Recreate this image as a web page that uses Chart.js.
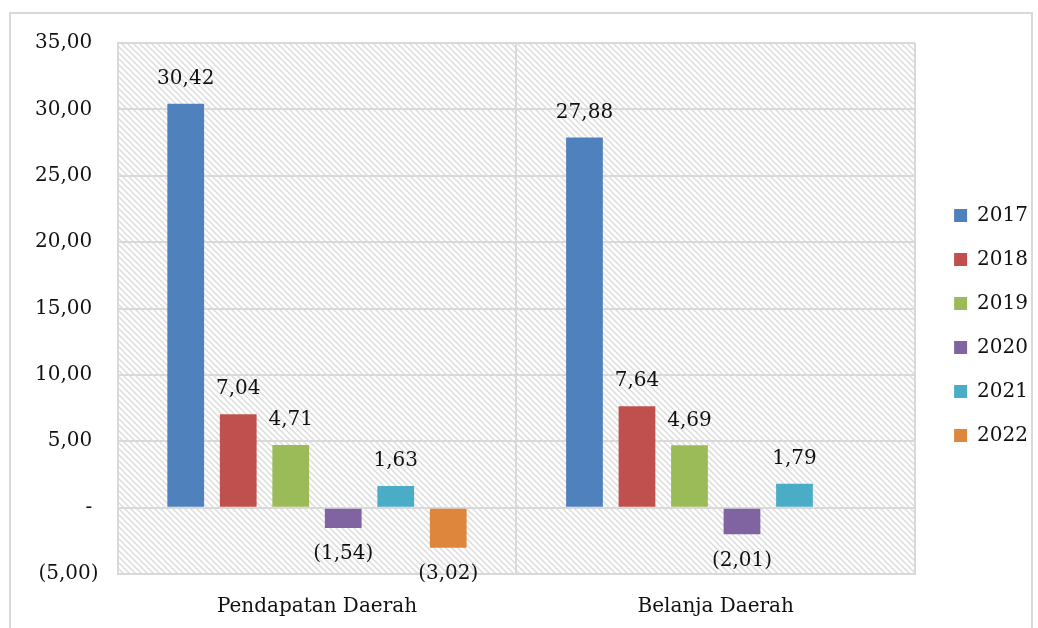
<!DOCTYPE html>
<html>
<head>
<meta charset="utf-8">
<script src="https://cdn.jsdelivr.net/npm/chart.js@4/dist/chart.umd.min.js"></script>
<style>
  html, body { margin: 0; background: #fff; overflow: hidden; }
  #frame { position: absolute; left: 9px; top: 12px; width: 1020px; height: 620px; border: 2px solid #d9d9d9; }
  #wrap { position: absolute; left: 0; top: 0; width: 1038px; height: 628px; overflow: hidden; }
</style>
</head>
<body>
<div id="frame"></div>
<div id="wrap"><canvas id="chart" width="1038" height="636"></canvas></div>
<script>
// categories and series
var categories = ["Pendapatan Daerah", "Belanja Daerah"];
var years = ["2017", "2018", "2019", "2020", "2021", "2022"];
var v2017 = [30.42, 27.88];
var v2018 = [7.04, 7.64];
var v2019 = [4.71, 4.69];
var v2020 = [-1.54, -2.01];
var v2021 = [1.63, 1.79];
var v2022 = [-3.02, null];
var colors = ["#4f81bd", "#c0504d", "#9bbb59", "#8064a2", "#4bacc6", "#de863c"];
var yTicks = [-5, 0, 5, 10, 15, 20, 25, 30, 35];

var FONT = "'DejaVu Serif', serif";

function fmt(v) {
  var s = Math.abs(v).toFixed(2).replace(".", ",");
  return v < 0 ? "(" + s + ")" : s;
}

// hatch pattern for the plot background
function makeHatch() {
  var c = document.createElement("canvas");
  c.width = 6; c.height = 6;
  var g = c.getContext("2d");
  g.fillStyle = "#ffffff";
  g.fillRect(0, 0, 6, 6);
  g.strokeStyle = "#dcdcdc";
  g.lineWidth = 1.5;
  g.beginPath();
  g.moveTo(-1, -1); g.lineTo(7, 7);
  g.moveTo(-1, 5); g.lineTo(1, 7);
  g.moveTo(5, -1); g.lineTo(7, 1);
  g.stroke();
  return c;
}

var hatchBg = {
  id: "hatchBg",
  beforeDraw: function (chart) {
    var a = chart.chartArea, ctx = chart.ctx;
    ctx.save();
    ctx.fillStyle = ctx.createPattern(makeHatch(), "repeat");
    ctx.fillRect(a.left, a.top, a.right - a.left, a.bottom - a.top);
    ctx.restore();
  }
};

// nudge the legend a bit away from the plot, like the original
var legendNudge = {
  id: "legendNudge",
  afterLayout: function (chart) {
    var lg = chart.legend;
    lg.left += 15; lg.right += 15;
    lg.top -= 16; lg.bottom -= 16;
  }
};

var valueLabels = {
  id: "valueLabels",
  afterDatasetsDraw: function (chart) {
    var ctx = chart.ctx;
    ctx.save();
    ctx.font = "20px " + FONT;
    ctx.fillStyle = "#111";
    ctx.textAlign = "center";
    ctx.textBaseline = "middle";
    chart.data.datasets.forEach(function (ds, i) {
      var meta = chart.getDatasetMeta(i);
      meta.data.forEach(function (bar, j) {
        var v = ds.data[j];
        if (v === null || v === undefined) return;
        var y = v >= 0 ? bar.y - 25 : bar.y + 26;
        ctx.fillText(fmt(v), bar.x, y);
      });
    });
    ctx.restore();
  }
};

var series = [v2017, v2018, v2019, v2020, v2021, v2022];
var datasets = years.map(function (y, i) {
  return {
    label: y,
    data: series[i],
    backgroundColor: colors[i],
    borderWidth: 0,
    categoryPercentage: 0.79,
    barPercentage: 0.70
  };
});

var ctx = document.getElementById("chart");
var chart = new Chart(ctx, {
  type: "bar",
  data: { labels: categories, datasets: datasets },
  options: {
    responsive: false,
    animation: false,
    layout: { padding: { left: 16, top: 43, right: 15, bottom: -4 } },
    plugins: {
      tooltip: { enabled: false },
      legend: {
        position: "right",
        labels: {
          boxWidth: 13,
          boxHeight: 13,
          padding: 24,
          color: "#111",
          font: { family: FONT, size: 20 }
        }
      }
    },
    scales: {
      x: {
        grid: { color: "#d9d9d9", lineWidth: 2, drawTicks: false, offset: true },
        border: { color: "#d9d9d9", width: 2 },
        ticks: { color: "#111", padding: 21, font: { family: FONT, size: 20 } }
      },
      y: {
        min: -5,
        max: 35,
        afterBuildTicks: function (axis) {
          axis.ticks = yTicks.map(function (v) { return { value: v }; });
        },
        grid: { color: "#d9d9d9", lineWidth: 2, drawTicks: false },
        border: { color: "#d9d9d9", width: 2 },
        ticks: {
          color: "#111",
          padding: 19,
          font: { family: FONT, size: 20 },
          callback: function (v) {
            if (v === 0) return "- ";
            return v < 0 ? fmt(v) : fmt(v) + " ";
          }
        }
      }
    }
  },
  plugins: [hatchBg, legendNudge, valueLabels]
});
</script>
</body>
</html>
